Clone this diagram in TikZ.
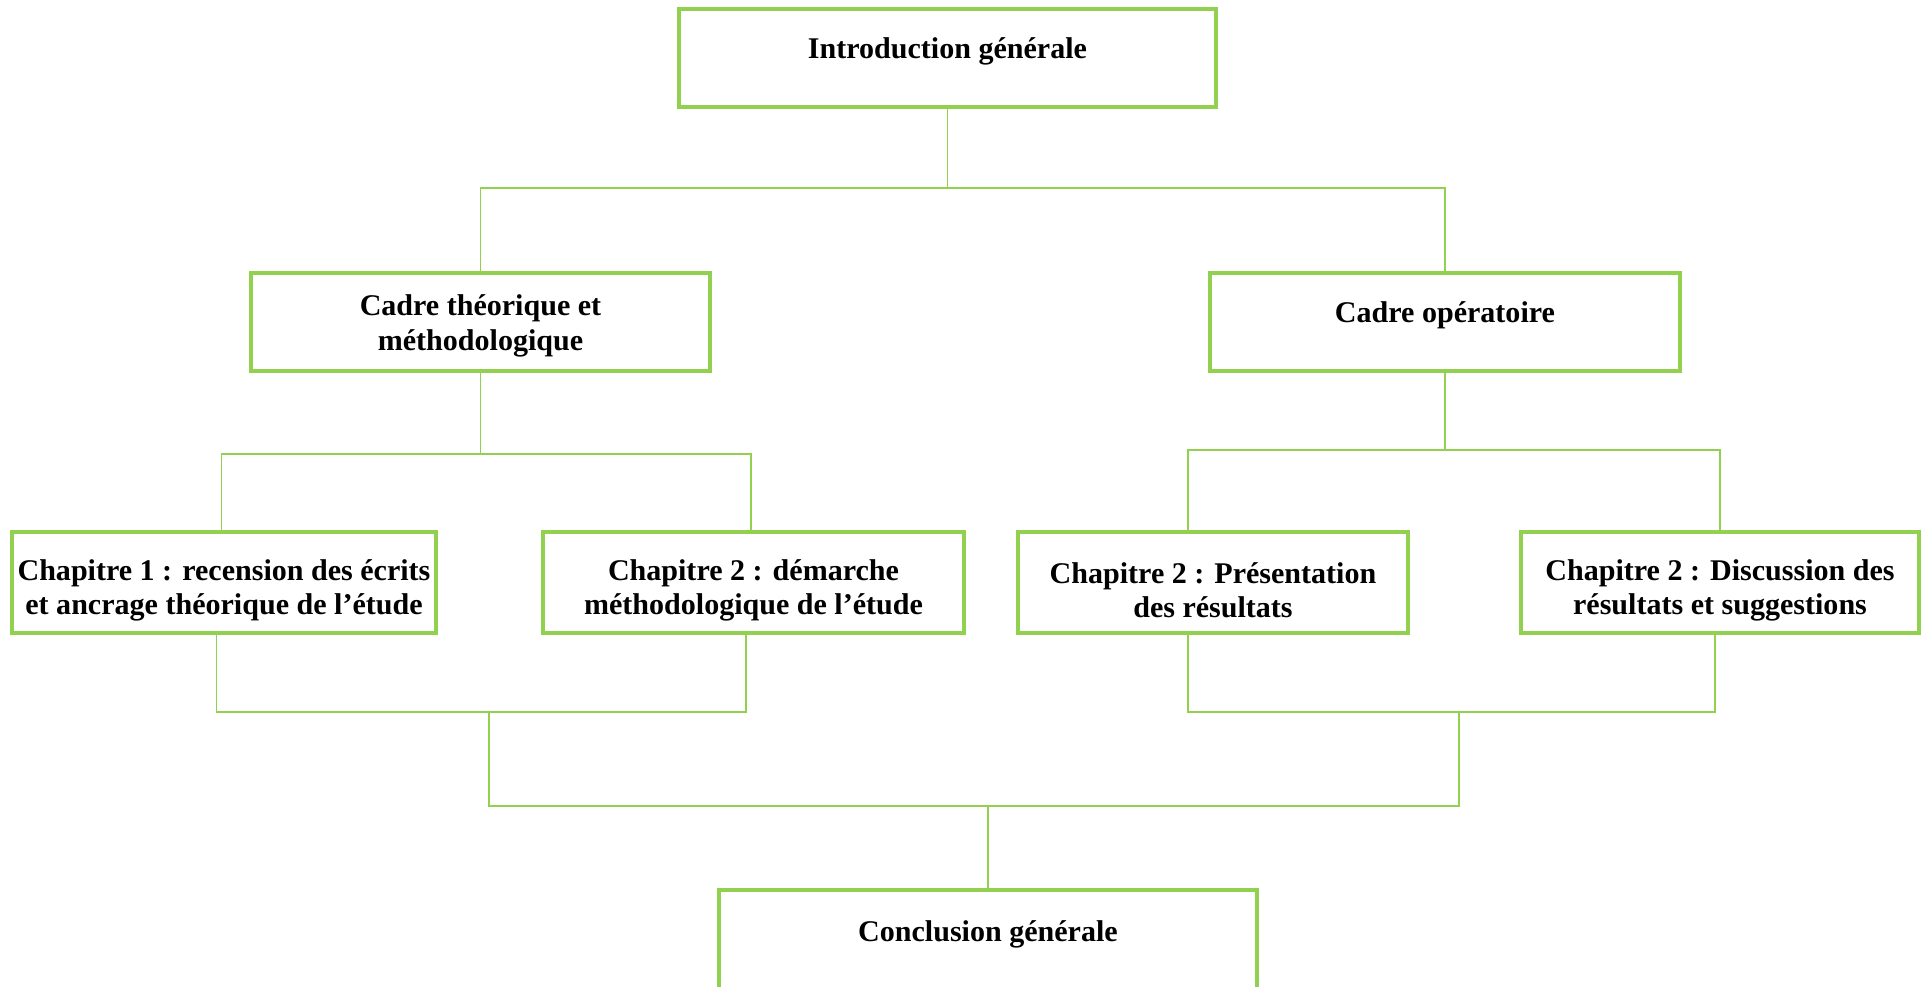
\documentclass[tikz,border=0pt]{standalone}
\usepackage{fontspec}
\setmainfont{Liberation Serif}
\usetikzlibrary{positioning, calc}
\definecolor{frameGreen}{HTML}{92D050}
\newcommand{\padTop}[1]{\rule{0pt}{#1pt}}
\tikzset{
    % Boxes
    planBox/.style={
        rectangle, draw=frameGreen, line width=2pt, fill=white,
        align=center, inner sep=0pt, minimum height=1.96cm,
        font=\bfseries\fontsize{17.1}{19.6}\selectfont
    },
    chapBox/.style={planBox, minimum height=2.02cm},
    oneLine/.style={text height=11.5pt, text depth=10.5pt},
    endLine/.style={text height=11.5pt, text depth=11.3pt},
    % Connectors
    link/.style={draw=frameGreen, line width=0.9pt}
}
\begin{document}
\begin{tikzpicture}
        \useasboundingbox (0,0) rectangle (38.52,19.74);
        % Top
        \node[planBox, oneLine, minimum width=10.74cm] (intro) at (18.95,18.58) {Introduction générale};
        
        % Two frames
        \node[planBox, minimum width=9.18cm] (theo) at (9.61,13.30) {\padTop{16.4}Cadre théorique et\\méthodologique};
        \node[planBox, oneLine, minimum width=9.40cm] (oper) at (28.90,13.30) {Cadre opératoire};
        
        % Chapters
        \node[chapBox, minimum width=8.48cm] (chA) at (4.48,8.09) {\padTop{20.6}Chapitre 1 : recension des écrits\\et ancrage théorique de l’étude};
        \node[chapBox, minimum width=8.42cm] (chB) at (15.07,8.09) {\padTop{20.6}Chapitre 2 : démarche\\méthodologique de l’étude};
        \node[chapBox, minimum width=7.80cm] (chC) at (24.26,8.09) {\padTop{20.6}Chapitre 2 : Présentation\\des résultats};
        \node[chapBox, minimum width=7.96cm] (chD) at (34.40,8.09) {\padTop{20.6}Chapitre 2 : Discussion des\\résultats et suggestions};
        
        % Conclusion (cut by the page)
        \node[planBox, endLine, minimum width=10.76cm, minimum height=2.04cm] (concl) at (19.76,0.92) {Conclusion générale};
        
        % Splits
        \coordinate (s1) at (18.95,15.98);
        \draw[link] (intro.south) -- (s1);
        \draw[link] (theo.north) |- (s1) -| (oper.north);
        \coordinate (s2) at (9.61,10.66);
        \draw[link] (theo.south) -- (s2);
        \draw[link] ([xshift=-0.05cm]chA.north) |- (s2) -| ([xshift=-0.05cm]chB.north);
        \coordinate (s3) at (28.90,10.74);
        \draw[link] (oper.south) -- (s3);
        \draw[link] ([xshift=-0.5cm]chC.north) |- (s3) -| (chD.north);
        
        % Joins
        \coordinate (jL) at (9.78,5.50);
        \coordinate (jR) at (29.18,5.50);
        \draw[link] ([xshift=-0.15cm]chA.south) |- (jL) -| ([xshift=-0.15cm]chB.south);
        \draw[link] ([xshift=-0.5cm]chC.south) |- (jR) -| ([xshift=-0.1cm]chD.south);
        \coordinate (jB) at (19.76,3.62);
        \draw[link] (jL) |- (jB) -| (jR);
        \draw[link] (jB) -- (concl.north);
    \end{tikzpicture}
\end{document}
